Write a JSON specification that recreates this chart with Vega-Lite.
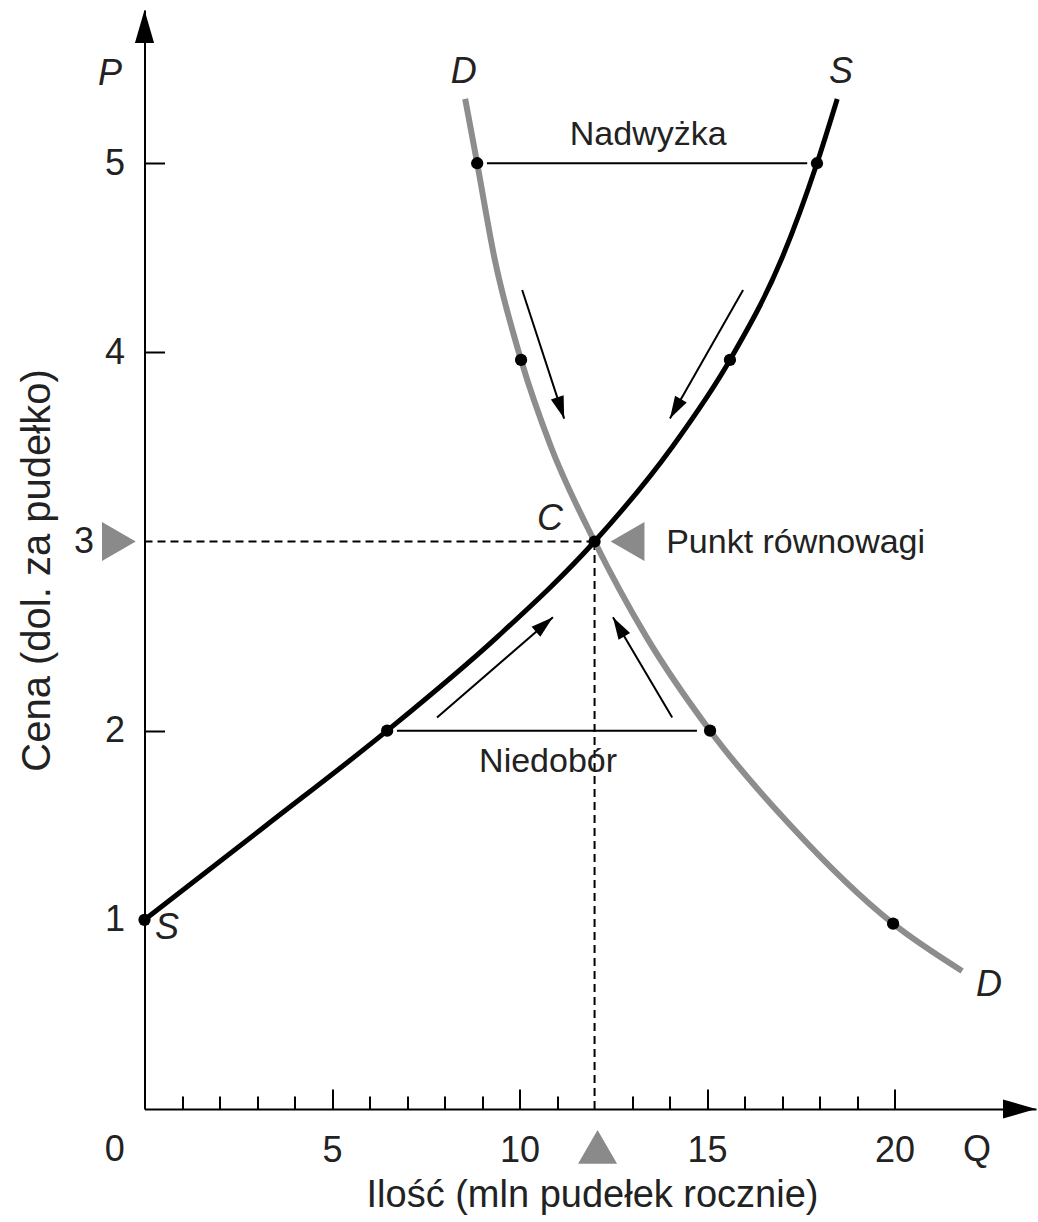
{
  "$schema": "https://vega.github.io/schema/vega-lite/v6.json",
  "width": 891.5,
  "height": 1099,
  "autosize": {"type": "none"},
  "padding": {"left": 144.5, "top": 10, "right": 2, "bottom": 113},
  "background": "white",
  "config": {"view": {"stroke": null}, "font": "Liberation Sans", "axis": {"grid": false}},
  "datasets": {
    "dashed": [
      {"x": 0, "y": 3, "x2": 12, "y2": 3},
      {"x": 12, "y": 0, "x2": 12, "y2": 3}
    ],
    "gaps": [
      {"x": 9.13, "x2": 17.67, "y": 5, "name": "Nadwyżka"},
      {"x": 6.73, "x2": 14.73, "y": 2, "name": "Niedobór"}
    ],
    "demand": [
      {"x": 8.55, "y": 5.34},
      {"x": 8.87, "y": 5},
      {"x": 9.33, "y": 4.5},
      {"x": 10.04, "y": 3.96},
      {"x": 10.84, "y": 3.5},
      {"x": 12, "y": 3},
      {"x": 13.37, "y": 2.5},
      {"x": 15.08, "y": 2},
      {"x": 17.22, "y": 1.5},
      {"x": 19.96, "y": 0.98},
      {"x": 21.8, "y": 0.73}
    ],
    "supply": [
      {"x": 0, "y": 1},
      {"x": 3.25, "y": 1.5},
      {"x": 6.47, "y": 2},
      {"x": 9.43, "y": 2.5},
      {"x": 12, "y": 3},
      {"x": 14.07, "y": 3.5},
      {"x": 15.61, "y": 3.96},
      {"x": 17.0, "y": 4.5},
      {"x": 17.93, "y": 5},
      {"x": 18.47, "y": 5.34}
    ],
    "dots": [
      {"x": 0, "y": 1},
      {"x": 6.47, "y": 2},
      {"x": 12, "y": 3},
      {"x": 15.61, "y": 3.96},
      {"x": 17.93, "y": 5},
      {"x": 8.87, "y": 5},
      {"x": 10.04, "y": 3.96},
      {"x": 15.08, "y": 2},
      {"x": 19.96, "y": 0.98}
    ],
    "arrows": [
      {"x": 10.07, "y": 4.33, "x2": 11.19, "y2": 3.65, "dir": "dr"},
      {"x": 15.96, "y": 4.33, "x2": 14.01, "y2": 3.65, "dir": "dl"},
      {"x": 7.8, "y": 2.07, "x2": 10.89, "y2": 2.6, "dir": "ur"},
      {"x": 14.07, "y": 2.07, "x2": 12.49, "y2": 2.6, "dir": "ul"}
    ],
    "markers": [
      {"x": -0.683, "y": 3, "dir": "right"},
      {"x": 12.88, "y": 3, "dir": "left"},
      {"x": 12.08, "y": -0.2, "dir": "up"}
    ],
    "axisEnds": [
      {"x": 0, "y": 5.81, "dir": "up"},
      {"x": 23.77, "y": 0, "dir": "right"}
    ],
    "italicLabels": [
      {"x": -0.92, "y": 5.47, "t": "P"},
      {"x": 8.51, "y": 5.48, "t": "D"},
      {"x": 18.57, "y": 5.48, "t": "S"},
      {"x": 10.81, "y": 3.12, "t": "C"},
      {"x": 0.6, "y": 0.957, "t": "S"},
      {"x": 22.52, "y": 0.655, "t": "D"}
    ],
    "notes": [
      {"x": 13.43, "y": 5.148, "t": "Nadwyżka"},
      {"x": 10.76, "y": 1.834, "t": "Niedobór"},
      {"x": 17.36, "y": 2.99, "t": "Punkt równowagi"}
    ],
    "axisLetters": [
      {"x": -0.79, "y": -0.217, "t": "0"},
      {"x": 22.2, "y": -0.217, "t": "Q"}
    ]
  },
  "resolve": {"scale": {"shape": "independent"}},
  "encoding": {
    "x": {
      "field": "x", "type": "quantitative",
      "scale": {"domain": [0, 23.77], "nice": false, "zero": false},
      "axis": {
        "title": "Ilość (mln pudełek rocznie)",
        "values": [1, 2, 3, 4, 5, 6, 7, 8, 9, 10, 11, 12, 13, 14, 15, 16, 17, 18, 19, 20],
        "tickSize": {"condition": {"test": "datum.value % 5 === 0", "value": -20}, "value": -13},
        "tickOpacity": {"condition": {"test": "datum.value === 12", "value": 0}, "value": 1},
        "tickColor": "black", "tickWidth": 2,
        "domainColor": "black", "domainWidth": 2,
        "labelExpr": "datum.value % 5 === 0 ? datum.label : ''",
        "labelFontSize": 36, "labelColor": "#222", "labelPadding": 44, "labelBaseline": "top",
        "labelFlush": false, "labelOverlap": false,
        "titleFontSize": 38, "titleFontWeight": "normal", "titleColor": "#222",
        "titleX": 447.5, "titleY": 86, "titleBaseline": "middle", "titleAlign": "center"
      }
    },
    "y": {
      "field": "y", "type": "quantitative",
      "scale": {"domain": [0, 5.81], "nice": false, "zero": false},
      "axis": {
        "title": "Cena (dol. za pudełko)",
        "values": [1, 2, 3, 4, 5],
        "tickSize": -20,
        "tickOpacity": {"condition": {"test": "datum.value === 3 || datum.value === 1", "value": 0}, "value": 1},
        "tickColor": "black", "tickWidth": 2,
        "domainColor": "black", "domainWidth": 2,
        "labelFontSize": 36, "labelColor": "#222",
        "labelPadding": {"condition": {"test": "datum.value === 3", "value": 71}, "value": 40},
        "labelFlush": false, "labelOverlap": false,
        "titleFontSize": 40, "titleFontWeight": "normal", "titleColor": "#222",
        "titleX": -107.5, "titleY": 560, "titleAngle": -90, "titleBaseline": "middle", "titleAlign": "center"
      }
    }
  },
  "layer": [
    {
      "data": {"name": "dashed"},
      "mark": {"type": "rule", "color": "black", "strokeWidth": 2, "strokeDash": [8, 5]},
      "encoding": {
        "x2": {"field": "x2"},
        "y2": {"field": "y2"}
      }
    },
    {
      "data": {"name": "gaps"},
      "mark": {"type": "rule", "color": "black", "strokeWidth": 2},
      "encoding": {
        "x2": {"field": "x2"}
      }
    },
    {
      "data": {"name": "demand"},
      "mark": {"type": "line", "color": "#8d8d8d", "strokeWidth": 6, "interpolate": "monotone"},
      "encoding": {}
    },
    {
      "data": {"name": "supply"},
      "mark": {"type": "line", "color": "black", "strokeWidth": 5, "interpolate": "monotone"},
      "encoding": {}
    },
    {
      "data": {"name": "dots"},
      "mark": {"type": "point", "shape": "circle", "filled": true, "color": "black", "opacity": 1, "size": 150},
      "encoding": {}
    },
    {
      "data": {"name": "arrows"},
      "mark": {"type": "rule", "color": "black", "strokeWidth": 2},
      "encoding": {
        "x2": {"field": "x2"},
        "y2": {"field": "y2"}
      }
    },
    {
      "data": {"name": "arrows"},
      "mark": {"type": "point", "filled": true, "color": "black", "opacity": 1, "size": 2000, "strokeWidth": 0},
      "encoding": {
        "x": {"field": "x2", "type": "quantitative"},
        "y": {"field": "y2", "type": "quantitative"},
        "shape": {
          "field": "dir", "type": "nominal", "legend": null,
          "scale": {
            "domain": ["dr", "dl", "ur", "ul"],
            "range": [
              "M0,0L-0.595,-0.857L-0.025,-1.043Z",
              "M0,0L0.229,-1.017L0.751,-0.723Z",
              "M0,0L-0.565,0.878L-0.955,0.422Z",
              "M0,0L0.768,0.707L0.252,1.013Z"
            ]
          }
        }
      }
    },
    {
      "data": {"name": "markers"},
      "mark": {"type": "point", "filled": true, "color": "#8a8a8a", "opacity": 1, "size": 1521, "strokeWidth": 0},
      "encoding": {
        "shape": {
          "field": "dir", "type": "nominal", "legend": null,
          "scale": {"domain": ["right", "left", "up"], "range": ["triangle-right", "triangle-left", "triangle-up"]}
        }
      }
    },
    {
      "data": {"name": "axisEnds"},
      "mark": {"type": "point", "filled": true, "color": "black", "opacity": 1, "size": 4356, "strokeWidth": 0},
      "encoding": {
        "shape": {
          "field": "dir", "type": "nominal", "legend": null,
          "scale": {"domain": ["up", "right"], "range": ["M0,0L-0.29,1L0.29,1Z", "M0,0L-1,-0.29L-1,0.29Z"]}
        }
      }
    },
    {
      "data": {"name": "italicLabels"},
      "mark": {"type": "text", "fontSize": 36, "fontStyle": "italic", "color": "#222", "align": "center", "baseline": "middle"},
      "encoding": {
        "text": {"field": "t"}
      }
    },
    {
      "data": {"name": "notes"},
      "mark": {"type": "text", "fontSize": 34, "color": "#222", "align": "center", "baseline": "middle"},
      "encoding": {
        "text": {"field": "t"}
      }
    },
    {
      "data": {"name": "axisLetters"},
      "mark": {"type": "text", "fontSize": 36, "color": "#222", "align": "center", "baseline": "middle"},
      "encoding": {
        "text": {"field": "t"}
      }
    }
  ]
}
